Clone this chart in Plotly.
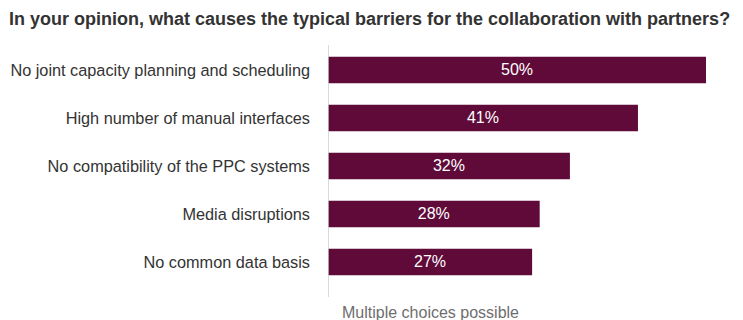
import plotly.graph_objects as go

categories = [
    "No joint capacity planning and scheduling",
    "High number of manual interfaces",
    "No compatibility of the PPC systems",
    "Media disruptions",
    "No common data basis",
]
values = [50, 41, 32, 28, 27]
labels = [f"{v}%" for v in values]

W, H = 743, 320
left, right = 328, 10
top, bottom = 45, H - 297
plot_w = W - left - right
xmax = plot_w / 7.56
FONT = "Liberation Sans, Arial, sans-serif"

fig = go.Figure(go.Bar(
    x=values, y=categories, orientation="h",
    marker=dict(color="#600a3a", line=dict(width=0)),
    width=0.555,
    text=labels, textposition="inside", insidetextanchor="middle",
    textfont=dict(color="white", size=16, family=FONT),
    hoverinfo="skip",
))

fig.update_layout(
    width=W, height=H,
    margin=dict(l=left, r=right, t=top, b=bottom, pad=0, autoexpand=False),
    paper_bgcolor="white", plot_bgcolor="white",
    font=dict(family=FONT, color="#333333", size=16),
    showlegend=False,
    title=dict(
        text="<b>In your opinion, what causes the typical barriers for the collaboration with partners?</b>",
        x=9 / W, xref="container", xanchor="left",
        y=1 - 19 / H, yref="container", yanchor="middle",
        font=dict(size=18, color="#333333"),
    ),
    xaxis=dict(range=[0, xmax], visible=False, fixedrange=True),
    yaxis=dict(
        range=[4.73, -0.52], showgrid=False, zeroline=False,
        showline=False, ticks="", ticklabelstandoff=17, automargin=False,
        tickfont=dict(size=16.3, color="#333333"),
        fixedrange=True,
    ),
    shapes=[dict(
        type="line", xref="x", yref="paper", x0=0, x1=0, y0=0, y1=1,
        line=dict(color="#cccccc", width=1.5),
    )],
    annotations=[dict(
        text="Multiple choices possible", xref="paper", yref="paper",
        x=(430 - left) / plot_w, y=-(312 - 297) / (297 - 45),
        xanchor="center", yanchor="middle", showarrow=False,
        font=dict(size=16, color="#6e6e6e"),
    )],
)

fig.write_html("out.html", config={"displayModeBar": False},
               post_script="document.body.style.margin='0';")
